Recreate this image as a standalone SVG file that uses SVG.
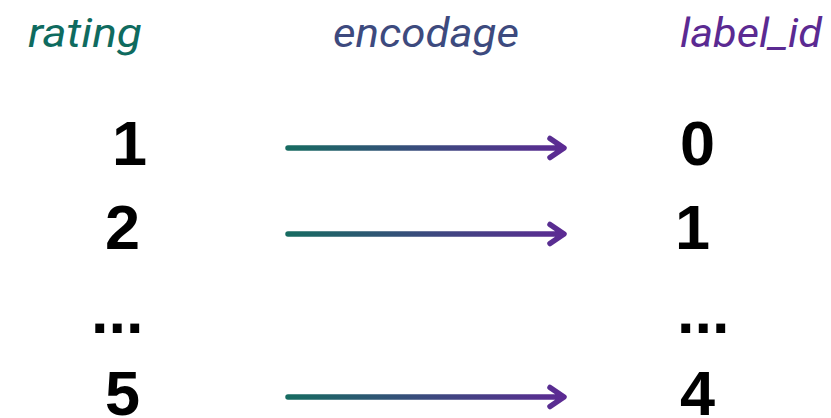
<svg xmlns="http://www.w3.org/2000/svg" width="831" height="418" viewBox="0 0 831 418">
<style>
.hdr{font-family:Roboto,"Liberation Sans",sans-serif;font-style:italic;font-size:40px}
.num{font-family:"Liberation Sans",Arial,sans-serif;font-weight:bold;font-size:63px;fill:#000}
.arr{fill:none;stroke-width:5.5;stroke-linecap:round;stroke-linejoin:round}
</style>
<defs>
<linearGradient id="g" gradientUnits="userSpaceOnUse" x1="288" y1="0" x2="565" y2="0">
<stop offset="0" stop-color="#176b61"/>
<stop offset="0.5" stop-color="#3b4a7e"/>
<stop offset="1" stop-color="#5c2a93"/>
</linearGradient>
</defs>
<g id="headers">
<text class="hdr" x="28" y="47" fill="#0f6b5f" textLength="114" lengthAdjust="spacingAndGlyphs">rating</text>
<text class="hdr" x="333" y="47" fill="#3d4a7e" textLength="186" lengthAdjust="spacingAndGlyphs">encodage</text>
<text class="hdr" x="680" y="47" fill="#5b2a92" textLength="142" lengthAdjust="spacingAndGlyphs">label_id</text>
</g>
<g id="ratings">
<text class="num" x="112" y="165">1</text>
<text class="num" x="105" y="249">2</text>
<text class="num" x="91" y="333">...</text>
<text class="num" x="105" y="415">5</text>
</g>
<g id="labels">
<text class="num" x="680" y="165">0</text>
<text class="num" x="675" y="249">1</text>
<text class="num" x="677" y="333">...</text>
<text class="num" x="680" y="415">4</text>
</g>
<g id="connectors" stroke="url(#g)">
<path class="arr" d="M288 148H563M550 138.5L564 148L550 157.5"/>
<path class="arr" d="M288 234H563M550 224.5L564 234L550 243.5"/>
<path class="arr" d="M288 397H563M550 387.5L564 397L550 406.5"/>
</g>
</svg>
